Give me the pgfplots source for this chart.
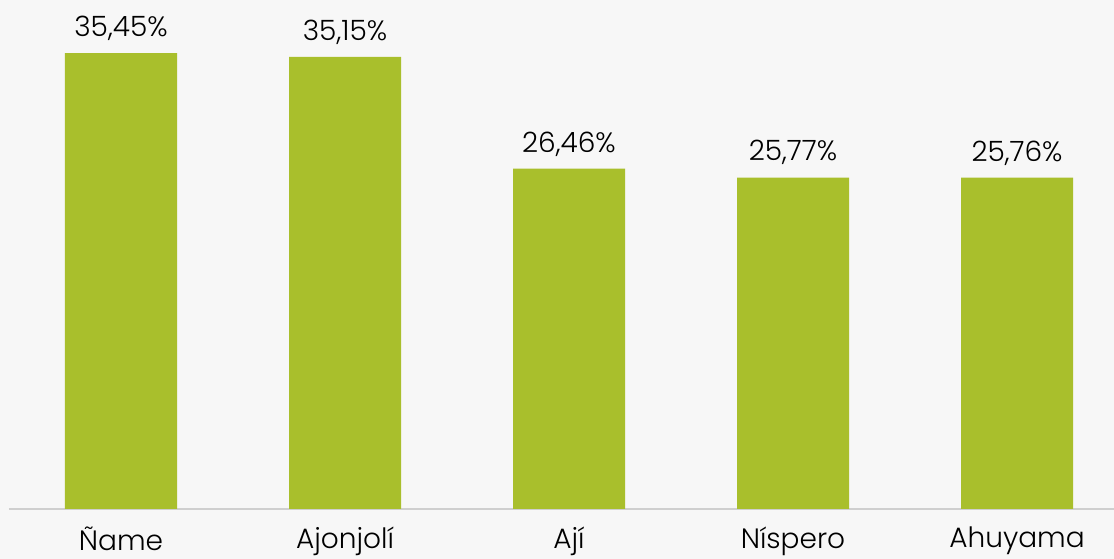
\documentclass[border=0pt]{standalone}
\usepackage{fontspec}
\setmainfont{Poppins Light}
\usepackage{pgfplots}
\pgfplotsset{compat=1.18}
\definecolor{barc}{HTML}{A9BF2C}
\definecolor{basec}{HTML}{CFCFCF}
\definecolor{bgc}{HTML}{F7F7F7}
\begin{document}
\begin{tikzpicture}[x=1pt,y=1pt]
\fill[bgc] (0,0) rectangle (1114,559);
\path[use as bounding box] (0,0) rectangle (1114,559);
\begin{axis}[
  at={(9pt,50pt)}, anchor=south west,
  scale only axis,
  width=1105pt, height=509pt,
  xmin=-0.5, xmax=4.433,
  ymin=0, ymax=39.58,
  axis y line=none,
  axis x line*=bottom,
  x axis line style={basec, line width=2pt, -},
  xtick=data,
  xticklabels={Ñame, Ajonjolí, Ají, Níspero, Ahuyama},
  major tick length=0pt,
  xticklabel style={font=\fontsize{28}{33}\selectfont, yshift=-14pt},
  clip=false,
  ybar, bar width=112pt,
  nodes near coords={\pgfmathprintnumber[fixed, fixed zerofill, precision=2, use comma]{\pgfplotspointmeta}\%},
  nodes near coords style={font=\fontsize{28}{33}\selectfont, anchor=south, yshift=9pt, /pgf/number format/assume math mode=true},
]
\addplot[fill=barc, draw=none] coordinates {(0,35.45) (1,35.15) (2,26.46) (3,25.77) (4,25.76)};
\end{axis}
\end{tikzpicture}
\end{document}
